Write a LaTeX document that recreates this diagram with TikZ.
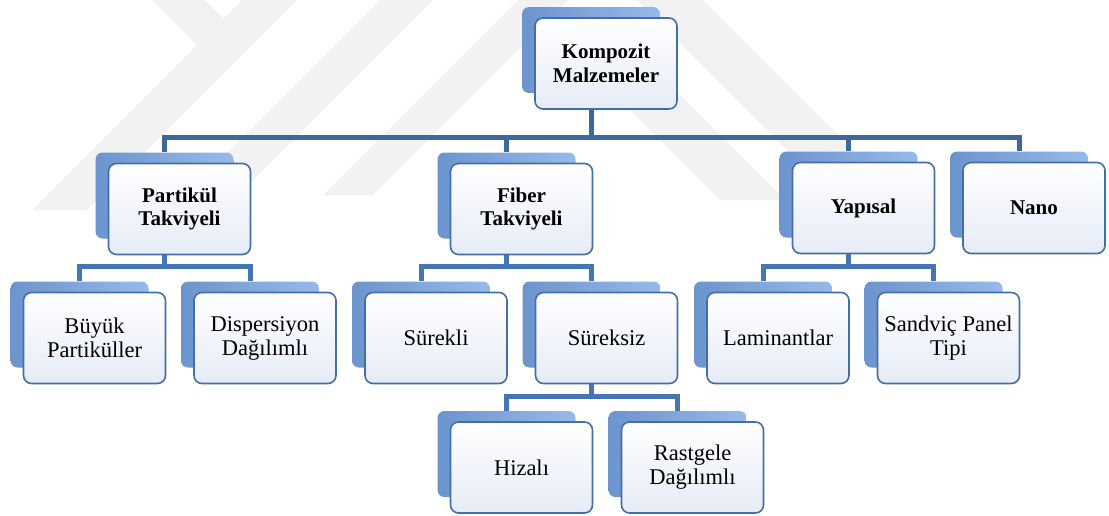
\documentclass[tikz,border=0pt]{standalone}
\usepackage{fontspec}
\setmainfont{Liberation Serif}
\pgfdeclarelayer{wm}
\pgfdeclarelayer{background}
\pgfsetlayers{wm,background,main}
\definecolor{connA}{RGB}{62,103,156}
\definecolor{connB}{RGB}{70,117,180}
\definecolor{frontline}{RGB}{68,110,170}
\definecolor{frontbot}{RGB}{230,235,246}
\definecolor{backdark}{RGB}{108,148,205}
\definecolor{backlight}{RGB}{150,186,234}
\definecolor{wmgray}{RGB}{242,242,242}
\tikzset{
  frontbox/.style={draw=frontline, line width=1.6pt, rounded corners=8pt,
    top color=white, bottom color=frontbot, minimum width=142pt, minimum height=91pt,
    inner sep=2pt, align=center, font=\fontsize{22.5}{24}\selectfont},
  boldbox/.style={frontbox, font=\fontsize{21}{23.5}\selectfont\bfseries},
  backbox/.style={rounded corners=7pt, left color=backdark, right color=backlight,
    minimum width=138pt, minimum height=86pt, inner sep=0pt},
  connone/.style={line width=5pt, draw=connA},
  conntwo/.style={line width=5pt, draw=connB},
  wmband/.style={fill=wmgray, draw=none}
}
\begin{document}
\begin{tikzpicture}[x=1pt,y=-1pt]
\useasboundingbox (0,0) rectangle (1109,515);
% watermark
\begin{pgfonlayer}{wm}
\fill[wmband] (242,0) -- (297,0) -- (87,210) -- (32,210) -- cycle;
\fill[wmband] (152,0) -- (205,0) -- (223.5,18.5) -- (197,45) -- cycle;
\fill[wmband] (380,0) -- (433,0) -- (223,210) -- (170,210) -- cycle;
\fill[wmband] (518,0) -- (568,0) -- (373,195) -- (323,195) -- cycle;
\fill[wmband] (610,90) -- (675,90) -- (785,200) -- (720,200) -- cycle;
\fill[wmband] (637,0) -- (703,0) -- (883,180) -- (817,180) -- cycle;
\end{pgfonlayer}
% back boxes
\node[backbox] (kom-b)  at (591,50) {};
\node[backbox] (part-b) at (164.5,195.5) {};
\node[backbox] (fib-b)  at (506.5,195.5) {};
\node[backbox] (yap-b)  at (848.5,194.5) {};
\node[backbox] (nano-b) at (1019,194.5) {};
\node[backbox] (buy-b)  at (79.5,324.5) {};
\node[backbox] (dis-b)  at (250,324.5) {};
\node[backbox] (sur-b)  at (421,324.5) {};
\node[backbox] (surz-b) at (591.5,324.5) {};
\node[backbox] (lam-b)  at (763,324.5) {};
\node[backbox] (san-b)  at (933.5,324.5) {};
\node[backbox] (hiz-b)  at (506.5,454) {};
\node[backbox] (ras-b)  at (677.5,454) {};
% front boxes
\node[boldbox]  (kom)  at (606,63.5) {Kompozit\\Malzemeler};
\node[boldbox]  (part) at (179.5,209) {Partikül\\Takviyeli};
\node[boldbox]  (fib)  at (521.5,209) {Fiber\\Takviyeli};
\node[boldbox]  (yap)  at (863.5,208) {Yapısal};
\node[boldbox]  (nano) at (1034,208) {Nano};
\node[frontbox] (buy)  at (94.5,338) {Büyük\\Partiküller};
\node[frontbox] (dis)  at (265,338) {Dispersiyon\\Dağılımlı};
\node[frontbox] (sur)  at (436,338) {Sürekli};
\node[frontbox] (surz) at (606.5,338) {Süreksiz};
\node[frontbox] (lam)  at (778,338) {Laminantlar};
\node[frontbox] (san)  at (948.5,338) {Sandviç Panel\\Tipi};
\node[frontbox] (hiz)  at (521.5,467.5) {Hizalı};
\node[frontbox] (ras)  at (692.5,467.5) {Rastgele\\Dağılımlı};
% connectors
\coordinate (barA) at (0,137);
\coordinate (barB) at (0,266.5);
\coordinate (barC) at (0,396);
\begin{pgfonlayer}{background}
\draw[connone] (kom-b.south) -- (kom-b.south |- barA) -| (part-b.north);
\draw[connone] (kom-b.south) -- (kom-b.south |- barA) -| (fib-b.north);
\draw[connone] (kom-b.south) -- (kom-b.south |- barA) -| (yap-b.north);
\draw[connone] (kom-b.south) -- (kom-b.south |- barA) -| (nano-b.north);
\draw[conntwo] (part-b.south) -- (part-b.south |- barB) -| (buy-b.north);
\draw[conntwo] (part-b.south) -- (part-b.south |- barB) -| (dis-b.north);
\draw[conntwo] (fib-b.south) -- (fib-b.south |- barB) -| (sur-b.north);
\draw[conntwo] (fib-b.south) -- (fib-b.south |- barB) -| (surz-b.north);
\draw[conntwo] (yap-b.south) -- (yap-b.south |- barB) -| (lam-b.north);
\draw[conntwo] (yap-b.south) -- (yap-b.south |- barB) -| (san-b.north);
\draw[conntwo] (surz-b.south) -- (surz-b.south |- barC) -| (hiz-b.north);
\draw[conntwo] (surz-b.south) -- (surz-b.south |- barC) -| (ras-b.north);
\end{pgfonlayer}
\end{tikzpicture}
\end{document}
